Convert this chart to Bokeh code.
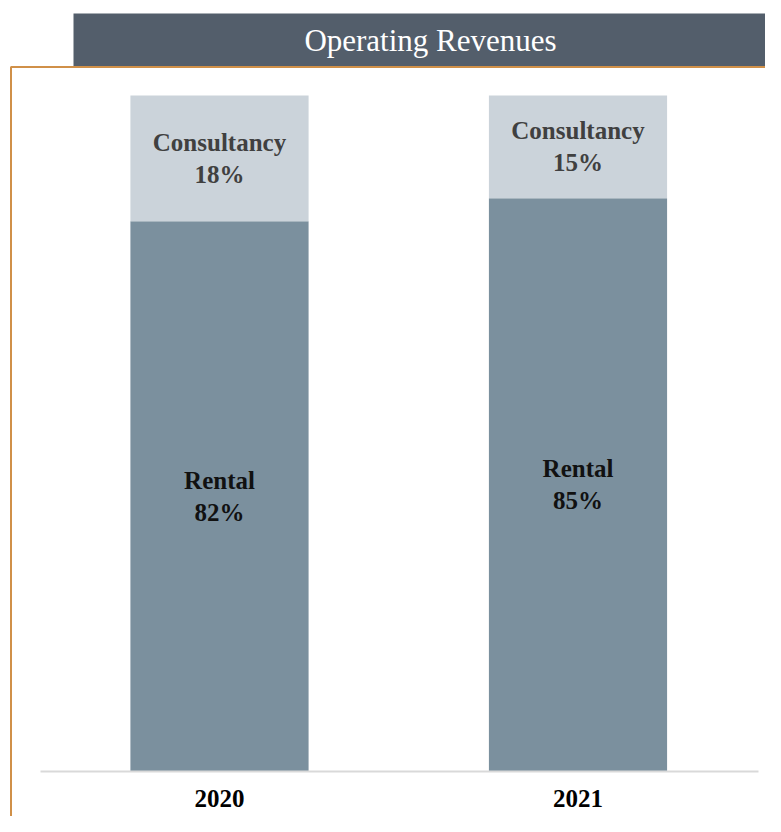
from bokeh.plotting import figure
from bokeh.models import Range1d, ColumnDataSource
from bokeh.core.properties import value
from bokeh.embed import file_html
from bokeh.resources import INLINE

# ---- data ----
years = [2020, 2021]
year_labels = ["2020", "2021"]
rental = [81.4, 84.8]
consultancy = [18.6, 15.2]
rental_labels = ["82%", "85%"]
consultancy_labels = ["18%", "15%"]
title = "Operating Revenues"

# ---- layout (canvas pixels) ----
W, H = 765, 816
unit_x = 358.5            # px per year
first_px = 219.0          # canvas x of first bar centre
unit_y = 6.76             # px per percent
base_px = 771.0           # canvas y of baseline (0%)

xs = years[0] - first_px / unit_x
xe = xs + W / unit_x
ys = -(H - base_px) / unit_y
ye = base_px / unit_y


def px_x(px):
    return xs + px / unit_x


def px_y(py):
    return ye - py / unit_y


p = figure(width=W, height=H, output_backend="svg", toolbar_location=None,
           x_range=Range1d(xs, xe), y_range=Range1d(ys, ye),
           min_border=0, min_border_left=0, min_border_right=0,
           min_border_top=0, min_border_bottom=0)
p.axis.visible = False
p.grid.visible = False
p.outline_line_color = None
p.background_fill_color = "white"
p.border_fill_color = "white"

serif = value("Liberation Serif")

# banner
p.quad(left=[px_x(73)], right=[px_x(W + 20)], top=[px_y(13)], bottom=[px_y(65.5)],
       fill_color="#535e6b", line_color=None)
p.text(x=[px_x(430)], y=[px_y(40)], text=[title], text_font=serif,
       text_font_size="31px", text_color="white", text_align="center",
       text_baseline="middle")

# gold border
p.segment(x0=[px_x(10)], y0=[px_y(66.5)], x1=[px_x(W + 20)], y1=[px_y(66.5)],
          line_color="#d09048", line_width=2)
p.segment(x0=[px_x(10.5)], y0=[px_y(66.5)], x1=[px_x(10.5)], y1=[px_y(H + 20)],
          line_color="#d09048", line_width=2)

# bars
src = ColumnDataSource(dict(
    x=years, rental=rental, consultancy=consultancy,
    total=[r + c for r, c in zip(rental, consultancy)],
    rmid=[r / 2 for r in rental],
    cmid=[r + c / 2 for r, c in zip(rental, consultancy)],
    rl=rental_labels, cl=consultancy_labels, yl=year_labels,
))
p.vbar(x="x", bottom=0, top="rental", width=0.497, source=src,
       fill_color="#7b909e", line_color=None)
p.vbar(x="x", bottom="rental", top="total", width=0.497, source=src,
       fill_color="#cbd3da", line_color=None)

# baseline
p.segment(x0=[px_x(40)], y0=[0], x1=[px_x(758)], y1=[0],
          line_color="#d9d9d9", line_width=2)

# labels
p.text(x="x", y="cmid", text=value("Consultancy"), source=src, text_font=serif,
       text_font_style="bold", text_font_size="25px", text_color="#404040",
       text_align="center", text_baseline="middle", y_offset=-16)
p.text(x="x", y="cmid", text="cl", source=src, text_font=serif,
       text_font_style="bold", text_font_size="25px", text_color="#404040",
       text_align="center", text_baseline="middle", y_offset=16)
p.text(x="x", y="rmid", text=value("Rental"), source=src, text_font=serif,
       text_font_style="bold", text_font_size="25px", text_color="#111111",
       text_align="center", text_baseline="middle", y_offset=-16)
p.text(x="x", y="rmid", text="rl", source=src, text_font=serif,
       text_font_style="bold", text_font_size="25px", text_color="#111111",
       text_align="center", text_baseline="middle", y_offset=16)

# year labels
p.text(x="x", y=0, text="yl", source=src, text_font=serif,
       text_font_style="bold", text_font_size="25px", text_color="#000000",
       text_align="center", text_baseline="middle", y_offset=27)

open("out.html", "w").write(file_html(p, INLINE))
